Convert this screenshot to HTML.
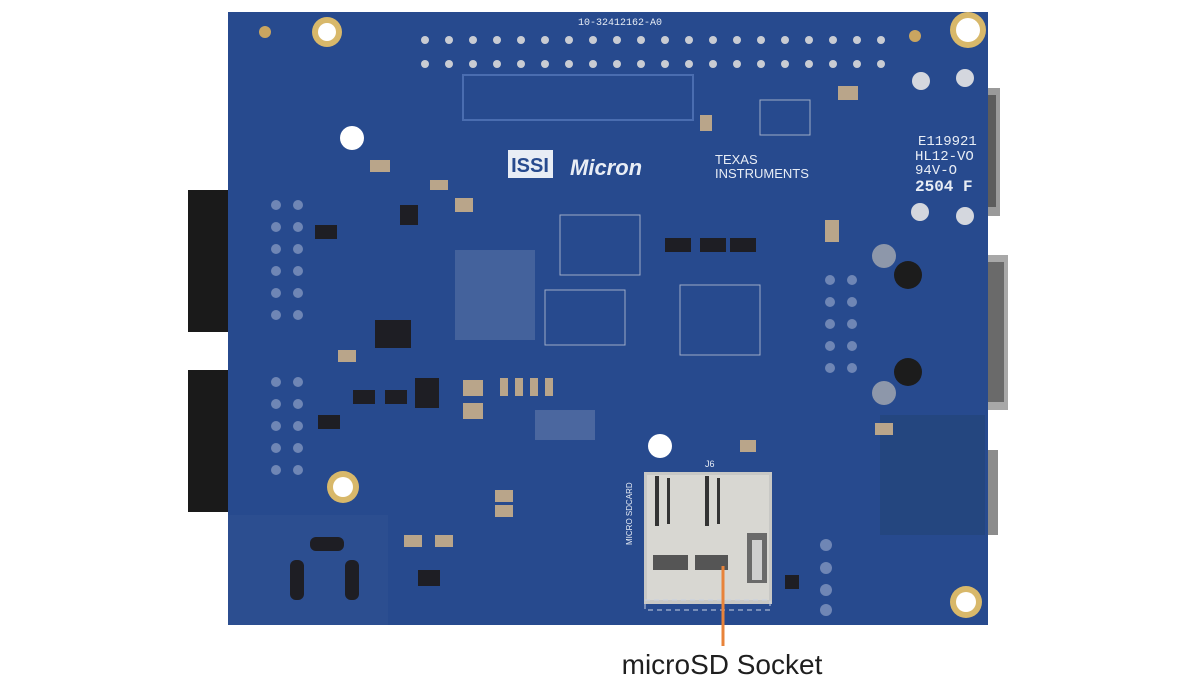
<!DOCTYPE html>
<html><head><meta charset="utf-8"><style>
html,body{margin:0;padding:0;background:#fff;width:1200px;height:686px;overflow:hidden}
svg{display:block}
</style></head><body>
<svg width="1200" height="686" viewBox="0 0 1200 686" xmlns="http://www.w3.org/2000/svg" font-family="Liberation Sans, sans-serif">
<rect x="188" y="190" width="46" height="142" fill="#1a1a1a"/>
<rect x="188" y="370" width="46" height="142" fill="#1a1a1a"/>
<rect x="984" y="88" width="16" height="128" fill="#9a9a9a"/>
<rect x="986" y="95" width="10" height="112" fill="#5c5c5c"/>
<rect x="984" y="255" width="24" height="155" fill="#a8a8a8"/>
<rect x="988" y="262" width="16" height="140" fill="#6a6a6a"/>
<rect x="984" y="450" width="14" height="85" fill="#8c8c8c"/>
<rect x="228" y="12" width="760" height="613" fill="#274a8e"/>
<rect x="228" y="515" width="160" height="110" fill="#2c4e90"/>
<rect x="880" y="415" width="105" height="120" fill="#24467f"/>
<g fill="#c9ccd3">
<g id="row">
<circle cx="425" cy="40" r="4"/><circle cx="449" cy="40" r="4"/><circle cx="473" cy="40" r="4"/><circle cx="497" cy="40" r="4"/><circle cx="521" cy="40" r="4"/><circle cx="545" cy="40" r="4"/><circle cx="569" cy="40" r="4"/><circle cx="593" cy="40" r="4"/><circle cx="617" cy="40" r="4"/><circle cx="641" cy="40" r="4"/><circle cx="665" cy="40" r="4"/><circle cx="689" cy="40" r="4"/><circle cx="713" cy="40" r="4"/><circle cx="737" cy="40" r="4"/><circle cx="761" cy="40" r="4"/><circle cx="785" cy="40" r="4"/><circle cx="809" cy="40" r="4"/><circle cx="833" cy="40" r="4"/><circle cx="857" cy="40" r="4"/><circle cx="881" cy="40" r="4"/>
</g>
<use href="#row" y="24"/>
</g>
<text x="620" y="25" font-size="10" fill="#e6ecf5" text-anchor="middle" font-family="Liberation Mono, monospace">10-32412162-A0</text>
<rect x="463" y="75" width="230" height="45" fill="none" stroke="#4a6db0" stroke-width="2"/>
<circle cx="327" cy="32" r="15" fill="#d8b86a"/><circle cx="327" cy="32" r="9" fill="#fff"/>
<circle cx="968" cy="30" r="18" fill="#d8b86a"/><circle cx="968" cy="30" r="12" fill="#fff"/>
<circle cx="343" cy="487" r="16" fill="#d8b86a"/><circle cx="343" cy="487" r="10" fill="#fff"/>
<circle cx="966" cy="602" r="16" fill="#d8b86a"/><circle cx="966" cy="602" r="10" fill="#fff"/>
<circle cx="265" cy="32" r="6" fill="#c9a560"/><circle cx="915" cy="36" r="6" fill="#c9a560"/>
<circle cx="352" cy="138" r="12" fill="#fff"/><circle cx="660" cy="446" r="12" fill="#fff"/>
<g fill="#d4d7de"><circle cx="921" cy="81" r="9"/><circle cx="965" cy="78" r="9"/><circle cx="920" cy="212" r="9"/><circle cx="965" cy="216" r="9"/></g>
<rect x="508" y="150" width="45" height="28" fill="#e8edf5"/>
<text x="530" y="172" font-size="20" font-weight="bold" fill="#274a8e" text-anchor="middle">ISSI</text>
<text x="570" y="175" font-size="22" font-weight="bold" font-style="italic" fill="#e8edf5">Micron</text>
<text x="715" y="164" font-size="13" fill="#e8edf5">TEXAS</text>
<text x="715" y="178" font-size="13" fill="#e8edf5">INSTRUMENTS</text>
<text x="918" y="145" font-size="14" fill="#e8edf5" font-family="Liberation Mono, monospace">E119921</text>
<text x="915" y="160" font-size="14" fill="#e8edf5" font-family="Liberation Mono, monospace">HL12-VO</text>
<text x="915" y="174" font-size="14" fill="#e8edf5" font-family="Liberation Mono, monospace">94V-O</text>
<text x="915" y="191" font-size="16" font-weight="bold" fill="#e8edf5" font-family="Liberation Mono, monospace">2504 F</text>
<g fill="#6f86b5">
<circle cx="276" cy="205" r="5"/><circle cx="298" cy="205" r="5"/><circle cx="276" cy="227" r="5"/><circle cx="298" cy="227" r="5"/><circle cx="276" cy="249" r="5"/><circle cx="298" cy="249" r="5"/><circle cx="276" cy="271" r="5"/><circle cx="298" cy="271" r="5"/><circle cx="276" cy="293" r="5"/><circle cx="298" cy="293" r="5"/><circle cx="276" cy="315" r="5"/><circle cx="298" cy="315" r="5"/>
<circle cx="276" cy="382" r="5"/><circle cx="298" cy="382" r="5"/><circle cx="276" cy="404" r="5"/><circle cx="298" cy="404" r="5"/><circle cx="276" cy="426" r="5"/><circle cx="298" cy="426" r="5"/><circle cx="276" cy="448" r="5"/><circle cx="298" cy="448" r="5"/><circle cx="276" cy="470" r="5"/><circle cx="298" cy="470" r="5"/>
<circle cx="830" cy="280" r="5"/><circle cx="830" cy="302" r="5"/><circle cx="830" cy="324" r="5"/><circle cx="830" cy="346" r="5"/><circle cx="830" cy="368" r="5"/><circle cx="852" cy="280" r="5"/><circle cx="852" cy="302" r="5"/><circle cx="852" cy="324" r="5"/><circle cx="852" cy="346" r="5"/><circle cx="852" cy="368" r="5"/>
<circle cx="826" cy="545" r="6"/><circle cx="826" cy="568" r="6"/><circle cx="826" cy="590" r="6"/><circle cx="826" cy="610" r="6"/>
</g>
<circle cx="908" cy="275" r="14" fill="#1c1c1c"/><circle cx="908" cy="372" r="14" fill="#1c1c1c"/>
<circle cx="884" cy="256" r="12" fill="#8d97aa"/><circle cx="884" cy="393" r="12" fill="#8d97aa"/>
<g fill="#1e1e24">
<rect x="315" y="225" width="22" height="14"/><rect x="400" y="205" width="18" height="20"/><rect x="375" y="320" width="36" height="28"/><rect x="415" y="378" width="24" height="30"/>
<rect x="353" y="390" width="22" height="14"/><rect x="385" y="390" width="22" height="14"/><rect x="318" y="415" width="22" height="14"/>
<rect x="665" y="238" width="26" height="14"/><rect x="700" y="238" width="26" height="14"/><rect x="730" y="238" width="26" height="14"/>
<rect x="418" y="570" width="22" height="16"/><rect x="785" y="575" width="14" height="14"/>
<rect x="290" y="560" width="14" height="40" rx="6"/><rect x="345" y="560" width="14" height="40" rx="6"/><rect x="310" y="537" width="34" height="14" rx="6"/>
</g>
<g fill="#b9a58a">
<rect x="370" y="160" width="20" height="12"/><rect x="430" y="180" width="18" height="10"/><rect x="455" y="198" width="18" height="14"/><rect x="338" y="350" width="18" height="12"/>
<rect x="463" y="380" width="20" height="16"/><rect x="463" y="403" width="20" height="16"/><rect x="500" y="378" width="8" height="18"/><rect x="515" y="378" width="8" height="18"/><rect x="530" y="378" width="8" height="18"/><rect x="545" y="378" width="8" height="18"/>
<rect x="700" y="115" width="12" height="16"/><rect x="838" y="86" width="20" height="14"/><rect x="825" y="220" width="14" height="22"/>
<rect x="404" y="535" width="18" height="12"/><rect x="435" y="535" width="18" height="12"/><rect x="495" y="490" width="18" height="12"/><rect x="495" y="505" width="18" height="12"/>
<rect x="875" y="423" width="18" height="12"/><rect x="740" y="440" width="16" height="12"/>
</g>
<g fill="#cfd5e0" opacity=".7">
<rect x="560" y="215" width="80" height="60" fill="none" stroke="#cfd5e0" stroke-width="1"/>
<rect x="545" y="290" width="80" height="55" fill="none" stroke="#cfd5e0" stroke-width="1"/>
<rect x="680" y="285" width="80" height="70" fill="none" stroke="#cfd5e0" stroke-width="1"/>
<rect x="760" y="100" width="50" height="35" fill="none" stroke="#cfd5e0" stroke-width="1"/>
<rect x="455" y="250" width="80" height="90" opacity=".25"/>
<rect x="535" y="410" width="60" height="30" opacity=".3"/>
</g>
<rect x="644" y="472" width="128" height="132" fill="#c8c8c5"/>
<rect x="647" y="475" width="122" height="125" fill="#d8d7d2"/>
<rect x="655" y="476" width="4" height="50" fill="#333"/><rect x="667" y="478" width="3" height="46" fill="#333"/>
<rect x="705" y="476" width="4" height="50" fill="#333"/><rect x="717" y="478" width="3" height="46" fill="#333"/>
<rect x="653" y="555" width="35" height="15" fill="#555"/><rect x="695" y="555" width="33" height="15" fill="#555"/>
<rect x="747" y="533" width="20" height="50" fill="#6a6a6a"/><rect x="752" y="540" width="10" height="40" fill="#cfcfcf"/>
<rect x="645" y="600" width="125" height="10" fill="none" stroke="#c7d0e2" stroke-dasharray="5,4"/>
<text x="632" y="545" font-size="8" fill="#e6ecf5" transform="rotate(-90 632 545)">MICRO SDCARD</text>
<text x="705" y="467" font-size="9" fill="#e6ecf5">J6</text>
<line x1="723" y1="566" x2="723" y2="646" stroke="#e8833a" stroke-width="3"/>
<text x="722" y="674" font-size="28" fill="#1f1f1f" text-anchor="middle">microSD Socket</text>
</svg>
</body></html>
